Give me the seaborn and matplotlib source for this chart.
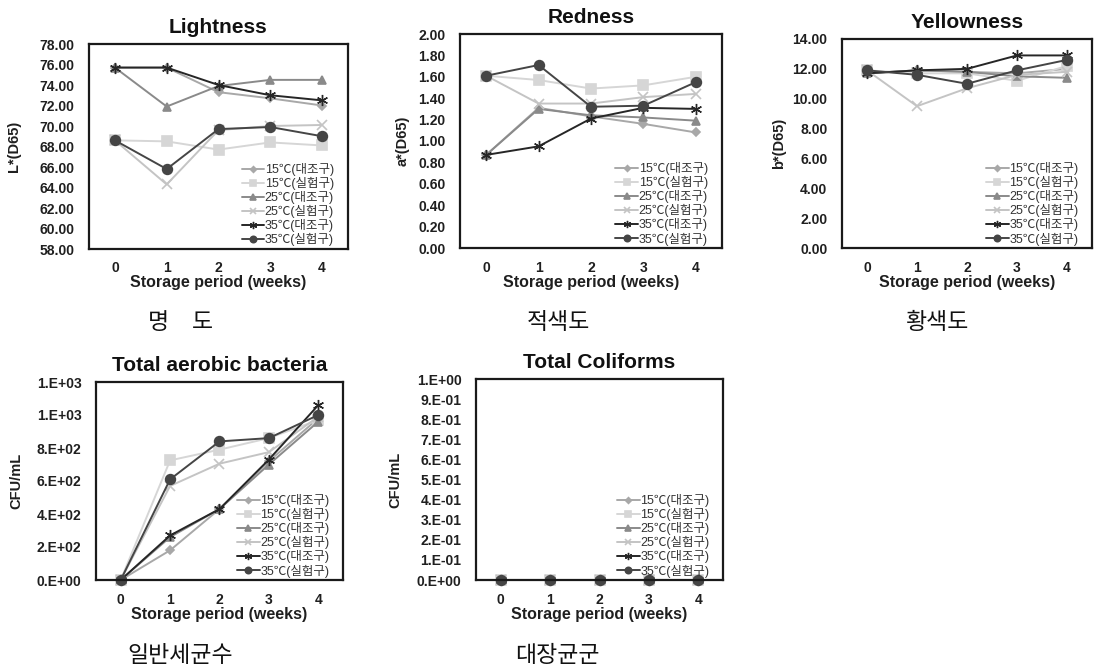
import numpy as np
import pandas as pd
import matplotlib
matplotlib.use("Agg")
import matplotlib.pyplot as plt
import seaborn as sns

# ---- data ----
weeks = [0, 1, 2, 3, 4]
series_labels = ["15℃(대조구)", "15℃(실험구)", "25℃(대조구)",
                 "25℃(실험구)", "35℃(대조구)", "35℃(실험구)"]

# one row per series, same order as series_labels
lightness = [
    [75.7, 75.7, 73.3, 72.7, 72.0],
    [68.6, 68.5, 67.7, 68.4, 68.1],
    [75.7, 71.9, 73.9, 74.5, 74.5],
    [68.6, 64.3, 69.6, 70.0, 70.1],
    [75.7, 75.7, 74.0, 73.0, 72.5],
    [68.6, 65.8, 69.7, 69.9, 69.0],
]
redness = [
    [0.87, 1.31, 1.23, 1.16, 1.08],
    [1.61, 1.57, 1.49, 1.52, 1.60],
    [0.87, 1.30, 1.24, 1.22, 1.19],
    [1.61, 1.35, 1.35, 1.41, 1.44],
    [0.87, 0.95, 1.21, 1.31, 1.30],
    [1.61, 1.71, 1.32, 1.33, 1.55],
]
yellowness = [
    [11.7, 11.9, 11.8, 11.7, 12.0],
    [11.9, 11.7, 11.7, 11.2, 12.2],
    [11.7, 11.9, 11.8, 11.5, 11.4],
    [11.9, 9.5, 10.7, 11.6, 11.8],
    [11.7, 11.9, 12.0, 12.9, 12.9],
    [11.9, 11.6, 11.0, 11.9, 12.6],
]
aerobic = [
    [0, 180, 430, 720, 980],
    [0, 725, 790, 860, 970],
    [0, 260, 430, 700, 960],
    [0, 570, 705, 775, 990],
    [0, 270, 430, 730, 1060],
    [0, 610, 840, 860, 1000],
]
coliforms = [
    [0, 0, 0, 0, 0],
    [0, 0, 0, 0, 0],
    [0, 0, 0, 0, 0],
    [0, 0, 0, 0, 0],
    [0, 0, 0, 0, 0],
    [0, 0, 0, 0, 0],
]

colour_ticks = {
    "L": [58, 60, 62, 64, 66, 68, 70, 72, 74, 76, 78],
    "a": [0.0, 0.2, 0.4, 0.6, 0.8, 1.0, 1.2, 1.4, 1.6, 1.8, 2.0],
    "b": [0, 2, 4, 6, 8, 10, 12, 14],
}
aerobic_ticks = [0, 200, 400, 600, 800, 1000, 1200]
aerobic_ticklabels = ["0.E+00", "2.E+02", "4.E+02", "6.E+02", "8.E+02", "1.E+03", "1.E+03"]
coliform_ticks = [0.0, 0.1, 0.2, 0.3, 0.4, 0.5, 0.6, 0.7, 0.8, 0.9, 1.0]
coliform_ticklabels = ["0.E+00", "1.E-01", "2.E-01", "3.E-01", "4.E-01", "5.E-01",
                       "6.E-01", "7.E-01", "8.E-01", "9.E-01", "1.E+00"]

series_colors = ["#a8a8a8", "#d6d6d6", "#8a8a8a", "#c4c4c4", "#262626", "#454545"]
series_markers = ["D", "s", "^", "x", (6, 2, 0), "o"]
series_msize = [4.5, 6.5, 6, 7, 8, 7]
series_mew = [1.2, 1.2, 1.2, 1.2, 1.0, 1.2]

# ---- style ----
sns.set_style("white")
plt.rcParams["font.family"] = ["Liberation Sans", "Noto Sans CJK KR", "DejaVu Sans"]
plt.rcParams["font.weight"] = "bold"
plt.rcParams["axes.titleweight"] = "bold"
plt.rcParams["axes.labelweight"] = "bold"

W, H = 1094, 672
fig = plt.figure(figsize=(W / 100, H / 100), dpi=100)


def panel(box, rows, title, ylabel, ylabel_x, ticks, ticklabels=None, fmt="{:.2f}"):
    # box = (left, top, right, bottom) in pixels of the reference
    l, t, r, b = box
    ax = fig.add_axes([l / W, 1 - b / H, (r - l) / W, (b - t) / H])
    for lab, vals, col, mk, ms, mew in zip(series_labels, rows, series_colors,
                                           series_markers, series_msize, series_mew):
        sns.lineplot(x=weeks, y=vals, color=col, marker=mk, markersize=ms,
                     markeredgecolor=col, markerfacecolor=col, markeredgewidth=mew,
                     linewidth=1.4, label=lab, ax=ax)
    for ln in ax.lines:
        ln.set_clip_on(False)
    ax.set_xlim(-0.5, 4.5)
    ax.set_ylim(ticks[0], ticks[-1])
    ax.set_xticks(weeks)
    ax.set_yticks(ticks)
    if ticklabels is None:
        ticklabels = [fmt.format(t) for t in ticks]
    ax.set_yticklabels(ticklabels)
    ax.tick_params(axis="y", length=0, labelsize=10, pad=10.5, labelcolor="#1f1f1f")
    ax.tick_params(axis="x", length=0, labelsize=10, pad=9, labelcolor="#1f1f1f")
    for lbl in ax.get_xticklabels() + ax.get_yticklabels():
        lbl.set_fontweight("bold")
    for sp in ax.spines.values():
        sp.set_color("#1a1a1a")
        sp.set_linewidth(1.6)
    ax.set_title(title, fontsize=15, pad=8, color="#111111")
    ax.set_xlabel("Storage period (weeks)", fontsize=11.5, labelpad=0, color="#1f1f1f")
    ax.set_ylabel(ylabel, fontsize=10.5, color="#1f1f1f")
    ax.yaxis.set_label_coords((ylabel_x - l) / (r - l), 0.5)

    ax.legend(loc="lower right", bbox_to_anchor=(0.955, 0.0), frameon=False,
              prop={"family": ["Liberation Sans", "Noto Sans CJK KR"], "size": 9, "weight": "normal"},
              handlelength=1.8, handletextpad=0.05, labelspacing=0.08,
              borderaxespad=0.1, borderpad=0.1, markerscale=0.65)
    for txt in ax.get_legend().get_texts():
        txt.set_color("#333333")
    return ax


panel((89, 44, 348, 249), lightness, "Lightness", "L*(D65)", 21, colour_ticks["L"])
panel((460, 34, 722, 248), redness, "Redness", "a*(D65)", 410, colour_ticks["a"])
panel((842, 39, 1092, 248), yellowness, "Yellowness", "b*(D65)", 786, colour_ticks["b"])
panel((96, 382, 343, 580), aerobic, "Total aerobic bacteria", "CFU/mL", 23,
      aerobic_ticks, aerobic_ticklabels)
panel((476, 379, 723, 580), coliforms, "Total Coliforms", "CFU/mL", 402,
      coliform_ticks, coliform_ticklabels)

# Korean captions under each panel
ko_kw = dict(fontsize=16.5, fontweight="normal", family=["Noto Sans CJK KR"],
             ha="center", va="center", color="#111111")
fig.text(181 / W, 1 - 322 / H, "명\u3000도", **ko_kw)
fig.text(558 / W, 1 - 322 / H, "적색도", **ko_kw)
fig.text(938 / W, 1 - 322 / H, "황색도", **ko_kw)
fig.text(180 / W, 1 - 656 / H, "일반세균수", **ko_kw)
fig.text(557 / W, 1 - 656 / H, "대장균군", **ko_kw)

fig.savefig("out.png", dpi=100)
